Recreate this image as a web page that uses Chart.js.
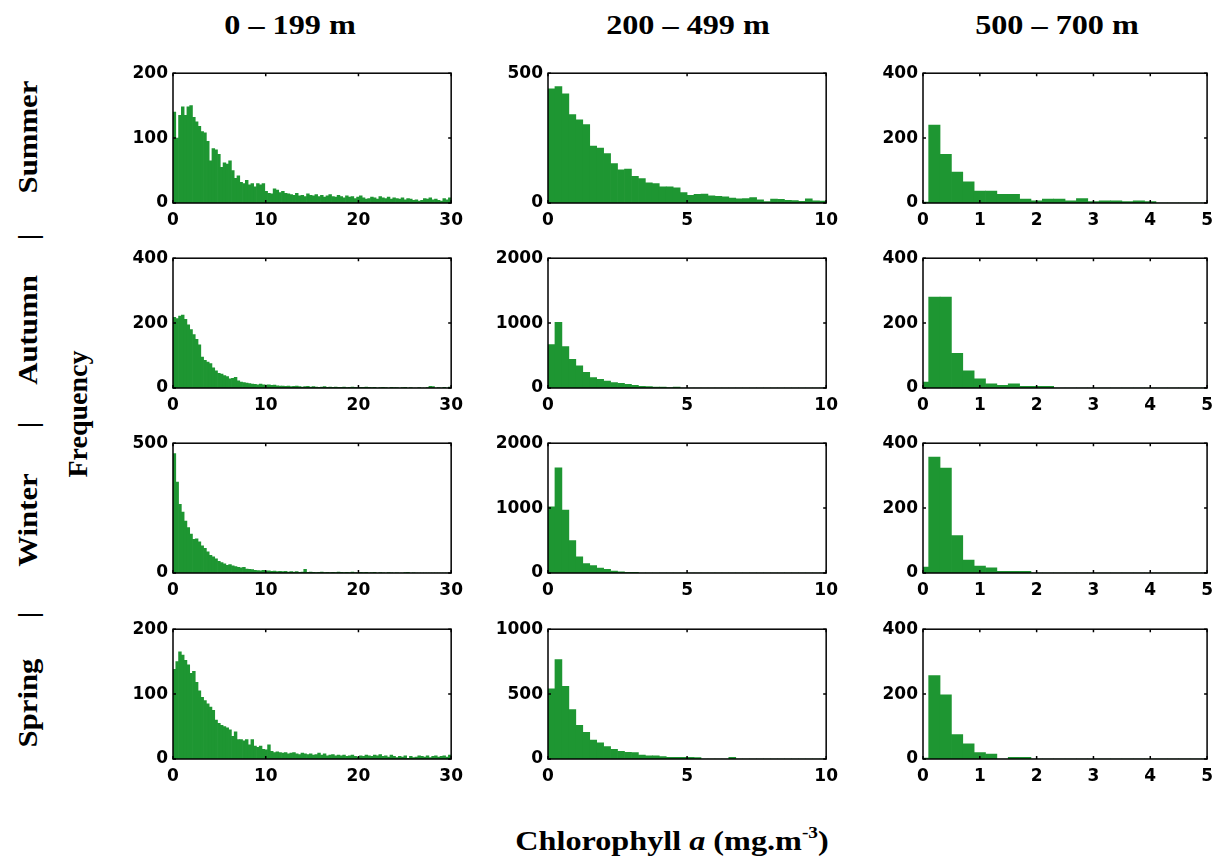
<!DOCTYPE html>
<html>
<head>
<meta charset="utf-8">
<script src="https://cdn.jsdelivr.net/npm/chart.js@4.4.1/dist/chart.umd.min.js"></script>
<style>
	body { margin: 0; background: #fff; overflow: hidden; }
	#container { position: relative; width: 1220px; height: 861px; background: #fff; }
	canvas.panel { position: absolute; }
	.label {
		position: absolute;
		font-family: "Liberation Serif", "Times New Roman", serif;
		font-weight: bold;
		color: #000;
		white-space: nowrap;
		line-height: 1;
	}
	.label sup { font-size: 0.6em; vertical-align: 0.7em; line-height: 0; }
</style>
</head>
<body>
<div id="container"></div>
<script>
// column / row headings
const depthTitles = ["0 – 199 m", "200 – 499 m", "500 – 700 m"];
const seasons = ["Summer", "Autumn", "Winter", "Spring"];

// x axis per depth column
const xMax = [30, 10, 5];
const xStep = [10, 5, 1];
const binWidth = [0.3, 0.25, 0.2];
const binOffset = [0.5, 0.5, 0];

// y axis max and tick step per row (season) and column (depth)
const yMax = [
	[200, 500, 400],
	[400, 2000, 400],
	[500, 2000, 400],
	[200, 1000, 400],
];
const yStep = [
	[100, 500, 200],
	[200, 1000, 200],
	[500, 1000, 200],
	[100, 500, 200],
];

// 0 – 199 m, bins of 0.3 mg.m-3
const shallowSummer = [
	140, 100, 135, 148, 135, 148, 150, 132, 125, 118,
	110, 108, 95, 65, 84, 82, 75, 55, 62, 60,
	65, 50, 38, 42, 32, 30, 35, 28, 30, 25,
	30, 28, 30, 18, 15, 14, 22, 20, 16, 18,
	15, 14, 13, 12, 15, 11, 12, 10, 14, 12,
	11, 13, 10, 12, 9, 11, 13, 10, 9, 12,
	10, 8, 11, 9, 10, 7, 9, 11, 8, 6,
	7, 9, 8, 6, 10, 8, 7, 9, 6, 8,
	7, 6, 8, 5, 7, 6, 4, 5, 3, 4,
	7, 6, 8, 5, 6, 4, 3, 7, 5, 8,
];
const shallowAutumn = [
	218, 214, 222, 225, 212, 195, 180, 165, 150, 133,
	95, 85, 80, 75, 62, 53, 45, 43, 38, 35,
	28, 30, 33, 22, 18, 17, 15, 14, 12, 11,
	10, 12, 10, 9, 10, 8, 9, 7, 6, 6,
	5, 6, 4, 5, 6, 4, 3, 4, 5, 3,
	4, 3, 2, 3, 4, 2, 3, 2, 3, 2,
	2, 3, 1, 2, 3, 2, 1, 2, 2, 3,
	2, 1, 2, 0, 1, 2, 1, 0, 2, 1,
	1, 0, 1, 2, 0, 1, 0, 0, 1, 0,
	0, 1, 5, 4, 0, 1, 0, 2, 0, 3,
];
const shallowWinter = [
	460, 350, 265, 235, 200, 175, 150, 130, 132, 120,
	105, 95, 82, 68, 62, 55, 45, 40, 35, 30,
	32, 28, 25, 22, 20, 22, 15, 14, 13, 10,
	9, 8, 10, 7, 8, 6, 7, 5, 6, 5,
	6, 4, 5, 4, 5, 3, 4, 14, 3, 4,
	3, 2, 3, 4, 2, 3, 2, 3, 2, 4,
	3, 2, 3, 2, 4, 2, 1, 3, 2, 3,
	1, 2, 3, 0, 2, 1, 0, 2, 1, 0,
	1, 0, 0, 2, 3, 0, 1, 0, 0, 0,
	0, 0, 0, 0, 0, 0, 0, 0, 0, 0,
];
const shallowSpring = [
	138, 150, 165, 160, 152, 145, 132, 135, 118, 105,
	95, 90, 85, 80, 75, 60, 55, 52, 50, 48,
	45, 35, 42, 30, 30, 28, 30, 22, 30, 20,
	18, 20, 15, 14, 22, 12, 10, 11, 10, 9,
	10, 8, 9, 10, 8, 7, 9, 8, 7, 8,
	6, 7, 9, 6, 8, 5, 6, 7, 5, 6,
	5, 6, 4, 5, 6, 4, 3, 5, 4, 6,
	5, 4, 6, 5, 7, 4, 5, 3, 6, 4,
	2, 4, 3, 5, 1, 4, 2, 3, 5, 4,
	3, 5, 2, 4, 5, 3, 4, 5, 3, 6,
];

// 200 – 499 m, bins of 0.25 mg.m-3
const midSummer = [
	440, 448, 421, 341, 320, 302, 219, 212, 190, 152,
	128, 131, 103, 94, 78, 75, 62, 62, 58, 40,
	30, 33, 34, 28, 26, 24, 19, 16, 17, 21,
	12, 5, 15, 14, 10, 9, 6, 16, 8, 7,
];
const midAutumn = [
	670, 1010, 640, 440, 340, 240, 160, 135, 105, 82,
	72, 55, 40, 25, 20, 15, 15, 8, 14, 0,
	0, 0, 0, 0, 0, 0, 0, 0, 0, 0,
	0, 0, 0, 0, 0, 0, 0, 0, 0, 0,
];
const midWinter = [
	1020, 1620, 970, 500, 250, 145, 115, 75, 55, 30,
	18, 10, 12, 0, 0, 0, 0, 0, 0, 0,
	0, 0, 0, 0, 0, 0, 0, 0, 0, 0,
	0, 0, 0, 0, 0, 0, 0, 0, 0, 0,
];
const midSpring = [
	540, 765, 560, 380, 260, 205, 145, 125, 95, 75,
	60, 52, 50, 30, 25, 24, 18, 13, 13, 12,
	12, 10, 0, 0, 0, 0, 12, 0, 0, 0,
	0, 0, 0, 0, 0, 0, 0, 0, 0, 0,
];

// 500 – 700 m, bins of 0.2 mg.m-3
const deepSummer = [3, 240, 150, 95, 65, 37, 37, 27, 27, 12, 7, 12, 12, 7, 14, 4, 7, 7, 4, 7, 4, 0, 0, 0, 0, 0];
const deepAutumn = [18, 280, 280, 107, 53, 28, 13, 8, 13, 5, 5, 5, 0, 0, 0, 0, 0, 0, 0, 0, 0, 0, 0, 0, 0, 0];
const deepWinter = [18, 357, 323, 115, 40, 21, 16, 5, 5, 5, 0, 0, 0, 0, 0, 0, 0, 0, 0, 0, 0, 0, 0, 0, 0, 0];
const deepSpring = [3, 257, 198, 75, 47, 20, 15, 0, 5, 5, 0, 0, 0, 0, 0, 0, 0, 0, 0, 0, 0, 0, 0, 0, 0, 0];

const panelData = [
	[shallowSummer, midSummer, deepSummer],
	[shallowAutumn, midAutumn, deepAutumn],
	[shallowWinter, midWinter, deepWinter],
	[shallowSpring, midSpring, deepSpring],
];

const barColor = "#1e9632";
const tickFont = { family: "'DejaVu Sans', sans-serif", size: 17, weight: "bold" };

// plot area placement (px)
const plotLeft = [173, 548, 923];
const plotTop = [70, 255, 440, 626];
const plotWidth = 285;
const plotHeight = 133;
const yAxisWidth = 60;
const xAxisHeight = 30;
const padTop = 12;
const padRight = 12;

// box around the axes + small inward ticks
const boxPlugin = {
	id: "box",
	afterDatasetsDraw(chart) {
		const { ctx, chartArea: a, scales } = chart;
		ctx.save();
		ctx.strokeStyle = "#000";
		ctx.lineWidth = 1.5;
		ctx.strokeRect(a.left, a.top, a.right - a.left, a.bottom - a.top);
		ctx.beginPath();
		scales.x.ticks.forEach((t) => {
			const px = scales.x.getPixelForValue(t.value);
			ctx.moveTo(px, a.bottom);
			ctx.lineTo(px, a.bottom - 3);
			ctx.moveTo(px, a.top);
			ctx.lineTo(px, a.top + 3);
		});
		scales.y.ticks.forEach((t) => {
			const py = scales.y.getPixelForValue(t.value);
			ctx.moveTo(a.left, py);
			ctx.lineTo(a.left + 3, py);
			ctx.moveTo(a.right, py);
			ctx.lineTo(a.right - 3, py);
		});
		ctx.stroke();
		ctx.restore();
	},
};

function binCenters(col, count) {
	const centers = [];
	for (let i = 0; i < count; i++) {
		centers.push(+(binWidth[col] * (i + binOffset[col])).toFixed(3));
	}
	return centers;
}

function addLabel(container, html, cx, cy, size, rotate, stretch) {
	const div = document.createElement("div");
	div.className = "label";
	div.innerHTML = html;
	div.style.fontSize = size + "px";
	div.style.left = cx + "px";
	div.style.top = cy + "px";
	div.style.transform =
		"translate(-50%, -50%)" + (rotate ? " rotate(-90deg)" : "") + " scaleX(" + stretch + ")";
	container.appendChild(div);
}

function createPanel(container, row, col) {
	const canvas = document.createElement("canvas");
	canvas.className = "panel";
	const w = yAxisWidth + plotWidth + padRight;
	const h = padTop + plotHeight + xAxisHeight;
	canvas.width = w;
	canvas.height = h;
	canvas.style.left = plotLeft[col] - yAxisWidth + "px";
	canvas.style.top = plotTop[row] - padTop + "px";
	container.appendChild(canvas);

	const values = panelData[row][col];
	const centers = binCenters(col, values.length);

	new Chart(canvas.getContext("2d"), {
		type: "bar",
		data: {
			datasets: [
				{
					data: values.map((v, i) => ({ x: centers[i], y: v })),
					backgroundColor: barColor,
					borderWidth: 0,
					barPercentage: 1,
					categoryPercentage: 1,
				},
			],
		},
		options: {
			responsive: false,
			animation: false,
			layout: { padding: { top: padTop, right: padRight, left: 0, bottom: 0 } },
			plugins: { legend: { display: false }, tooltip: { enabled: false } },
			scales: {
				x: {
					type: "linear",
					offset: false,
					min: 0,
					max: xMax[col],
					grid: { display: false, drawTicks: false },
					border: { display: false },
					ticks: {
						stepSize: xStep[col],
						font: tickFont,
						color: "#000",
						padding: 7,
						maxRotation: 0,
						callback: (v) => String(v),
					},
					afterFit: (s) => { s.height = xAxisHeight; },
				},
				y: {
					min: 0,
					max: yMax[row][col],
					grid: { display: false, drawTicks: false },
					border: { display: false },
					ticks: {
						stepSize: yStep[row][col],
						font: tickFont,
						color: "#000",
						padding: 5,
						callback: (v) => String(v),
					},
					afterFit: (s) => { s.width = yAxisWidth; },
				},
			},
		},
		plugins: [boxPlugin],
	});
}

const container = document.getElementById("container");

for (let r = 0; r < seasons.length; r++) {
	for (let c = 0; c < depthTitles.length; c++) {
		createPanel(container, r, c);
	}
}

// headings
const titleX = [290, 688, 1057];
depthTitles.forEach((t, i) => addLabel(container, t, titleX[i], 25, 28, false, 1.15));

const seasonY = [137, 330, 520, 703];
seasons.forEach((s, i) => addLabel(container, s, 28, seasonY[i], 28, true, 1.1));
[237, 425, 615].forEach((y) => addLabel(container, "|", 28, y, 28, true, 1));

addLabel(container, "Frequency", 78, 414, 28, true, 1.0);
addLabel(container, "Chlorophyll <i>a</i> (mg.m<sup>-3</sup>)", 672, 841, 28, false, 1.15);
</script>
</body>
</html>
